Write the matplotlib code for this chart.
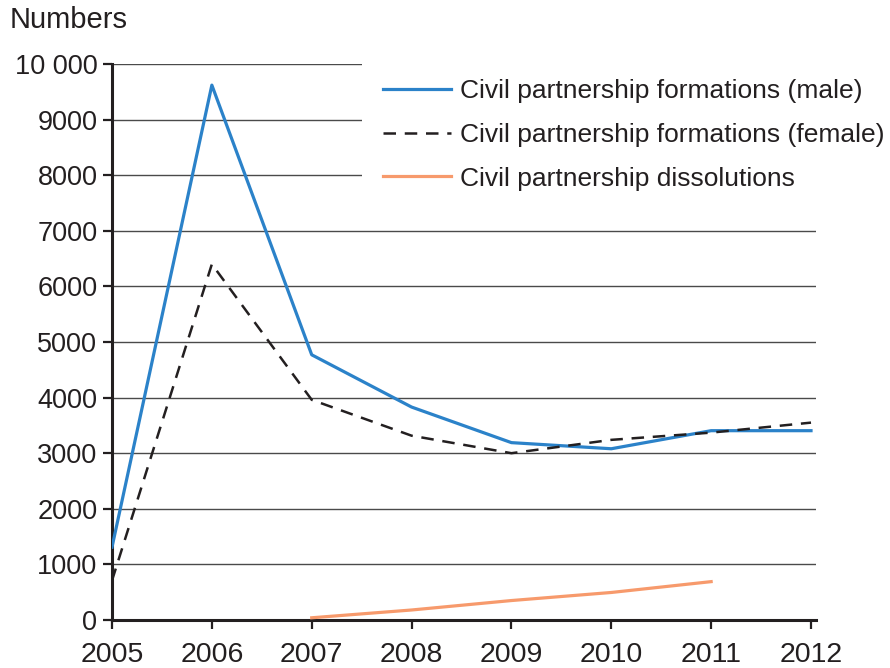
"""
Civil partnership formations and dissolutions, 2005-2012
"""
import matplotlib
matplotlib.use("Agg")
import matplotlib.pyplot as plt
import numpy as np

plt.rcParams['font.family'] = ['Liberation Sans', 'DejaVu Sans']

# data
years = [2005, 2006, 2007, 2008, 2009, 2010, 2011, 2012]
male = [1310, 9620, 4770, 3830, 3190, 3080, 3405, 3405]
female = [710, 6400, 3960, 3315, 3000, 3240, 3370, 3550]
diss_years = [2007, 2008, 2009, 2010, 2011]
dissolutions = [40, 180, 350, 495, 690]

y_ticks = [0, 1000, 2000, 3000, 4000, 5000, 6000, 7000, 8000, 9000, 10000]
y_labels = ['0', '1000', '2000', '3000', '4000', '5000', '6000', '7000',
            '8000', '9000', '10 000']

blue = '#2b82c9'
orange = '#f79a6c'
dark = '#231f20'
grid = '#4a4a4a'

fig = plt.figure(figsize=(8.9, 6.68), dpi=100)
ax = fig.add_axes([112 / 890, 48 / 668, 704 / 890, 556 / 668])

# horizontal grid
for v in y_ticks[1:]:
    ax.axhline(v, color=grid, lw=1.0, zorder=1)

ax.plot(years, male, color=blue, lw=2.3, label='Civil partnership formations (male)', zorder=3)
ax.plot(years, female, color=dark, lw=1.8, dashes=(5, 3.5),
        label='Civil partnership formations (female)', zorder=3)
ax.plot(diss_years, dissolutions, color=orange, lw=2.3,
        label='Civil partnership dissolutions', zorder=3)

ax.set_xlim(2005, 2012.05)
ax.set_ylim(0, 10000)
ax.set_xticks(years)
ax.set_xticklabels([str(y) for y in years])
ax.set_yticks(y_ticks)
ax.set_yticklabels(y_labels)

ax.spines['top'].set_visible(False)
ax.spines['right'].set_visible(False)
ax.spines['left'].set_linewidth(2.2)
ax.spines['bottom'].set_linewidth(2.2)
ax.spines['left'].set_color(dark)
ax.spines['bottom'].set_color(dark)
ax.tick_params(axis='y', direction='out', length=6.5, width=1.6, color=dark,
               labelsize=19.5, labelcolor=dark, pad=4)
ax.tick_params(axis='x', direction='out', length=6.5, width=1.6, color=dark,
               labelsize=20.5, labelcolor=dark, pad=9)

leg = ax.legend(loc='upper left', bbox_to_anchor=(362 / 890, 1 - 58 / 668),
                bbox_transform=fig.transFigure, fontsize=19, frameon=True,
                handlelength=2.58, handletextpad=0.34, labelspacing=0.75,
                borderpad=0.8, borderaxespad=0)
leg.get_frame().set_facecolor('white')
leg.get_frame().set_edgecolor('none')
leg.get_frame().set_alpha(1)
leg.get_frame().set_boxstyle('square', pad=0)
for t in leg.get_texts():
    t.set_color(dark)
leg.set_zorder(5)

fig.text(10 / 890, 1 - 28 / 668, 'Numbers', fontsize=21, color=dark,
         ha='left', va='baseline')

fig.savefig('out.png', dpi=100)
